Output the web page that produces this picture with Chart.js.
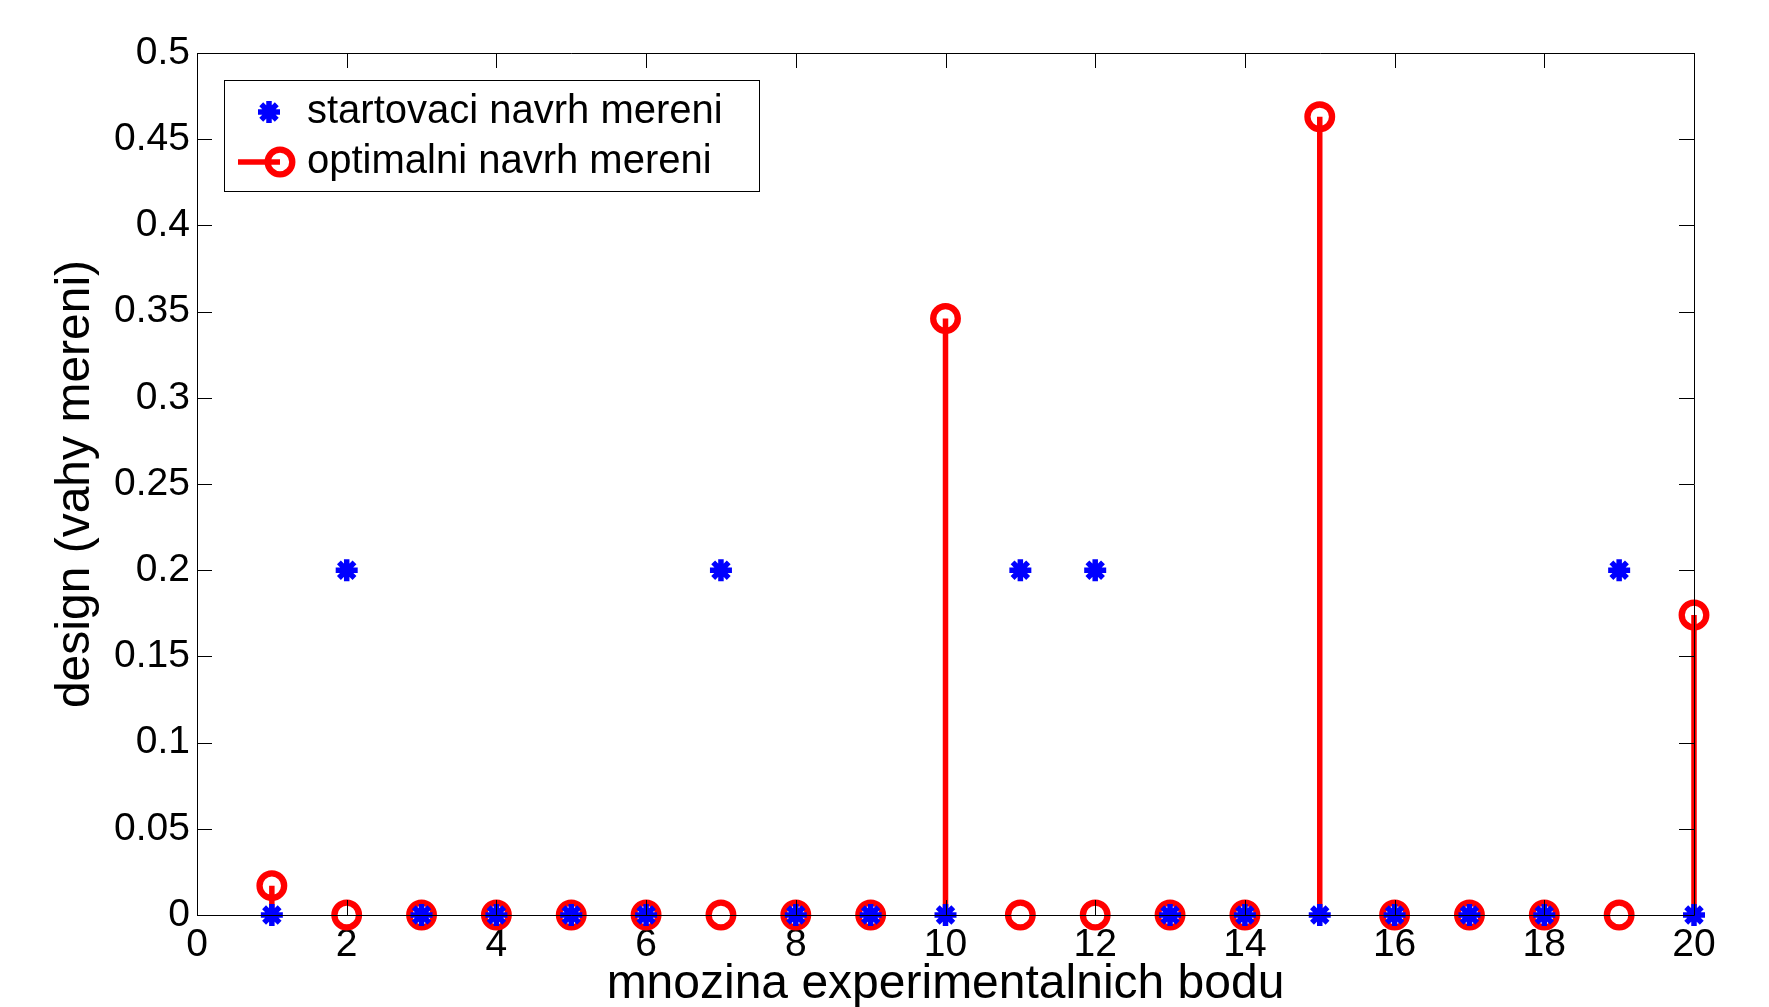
<!DOCTYPE html>
<html>
<head>
<meta charset="utf-8">
<title>design (vahy mereni)</title>
<script src="https://cdn.jsdelivr.net/npm/chart.js@4.4.1/dist/chart.umd.min.js"></script>
<style>
  html, body { margin: 0; padding: 0; background: #fff; }
  canvas { display: block; }
</style>
</head>
<body>
<canvas id="designChart" width="1769" height="1007"></canvas>
<script>
// Experimental points and the two designs (weights per point)
const points = [1, 2, 3, 4, 5, 6, 7, 8, 9, 10, 11, 12, 13, 14, 15, 16, 17, 18, 19, 20];
const startDesign = [0, 0.2, 0, 0, 0, 0, 0.2, 0, 0, 0, 0.2, 0.2, 0, 0, 0, 0, 0, 0, 0.2, 0];
const optimalDesign = [0.017, 0, 0, 0, 0, 0, 0, 0, 0, 0.346, 0, 0, 0, 0, 0.463, 0, 0, 0, 0, 0.174];

const seriesLabels = ['startovaci navrh mereni', 'optimalni navrh mereni'];

const xTicks = [0, 2, 4, 6, 8, 10, 12, 14, 16, 18, 20];
const yTicks = [0, 0.05, 0.1, 0.15, 0.2, 0.25, 0.3, 0.35, 0.4, 0.45, 0.5];
const yTickLabels = ['0', '0.05', '0.1', '0.15', '0.2', '0.25', '0.3', '0.35', '0.4', '0.45', '0.5'];

const xTitle = 'mnozina experimentalnich bodu';
const yTitle = 'design (vahy mereni)';

Chart.defaults.font.family = '"Liberation Sans", Arial, sans-serif';
Chart.defaults.color = '#000';

const starStyle = { pointStyle: 'star', radius: 11, borderWidth: 5.5, rotation: 0 };
const ringStyle = { pointStyle: 'circle', radius: 12.3, borderWidth: 6.3, rotation: 0 };
const stemWidth = 5.5;

// stem lines: baseline -> value, broken by nulls
const stemData = points.flatMap((x, i) => [
  { x: x, y: 0 },
  { x: x, y: optimalDesign[i] },
  { x: x, y: null }
]);

// axes box with inward ticks on all four sides, drawn over the data (like matlab)
const boxPlugin = {
  id: 'boxPlugin',
  afterDatasetsDraw(chart) {
    const { ctx, chartArea: a, scales: { x, y } } = chart;
    const len = 15;
    ctx.save();
    ctx.strokeStyle = '#000';
    ctx.lineWidth = 1;
    ctx.beginPath();
    x.ticks.forEach(t => {
      const px = Math.round(x.getPixelForValue(t.value)) + 0.5;
      ctx.moveTo(px, a.bottom); ctx.lineTo(px, a.bottom - len);
      ctx.moveTo(px, a.top); ctx.lineTo(px, a.top + len);
    });
    y.ticks.forEach(t => {
      const py = Math.round(y.getPixelForValue(t.value)) + 0.5;
      ctx.moveTo(a.left, py); ctx.lineTo(a.left + len, py);
      ctx.moveTo(a.right, py); ctx.lineTo(a.right - len, py);
    });
    ctx.stroke();
    ctx.beginPath();
    ctx.rect(Math.round(a.left) + 0.5, Math.round(a.top) + 0.5,
             Math.round(a.right - a.left), Math.round(a.bottom - a.top));
    ctx.stroke();
    ctx.restore();
  }
};

// boxed legend in the upper left corner of the axes
const legendPlugin = {
  id: 'legendPlugin',
  afterDraw(chart) {
    const { ctx, chartArea: a } = chart;
    const bx = a.left + 27, by = a.top + 27, bw = 535, bh = 111;
    ctx.save();
    ctx.fillStyle = '#fff';
    ctx.fillRect(bx, by, bw, bh);
    ctx.strokeStyle = '#000';
    ctx.lineWidth = 1;
    ctx.strokeRect(Math.round(bx) + 0.5, Math.round(by) + 0.5, bw, bh);

    const row1 = by + 32, row2 = by + 82;
    // star entry
    ctx.strokeStyle = '#0000ff';
    ctx.fillStyle = '#0000ff';
    ctx.lineWidth = starStyle.borderWidth;
    Chart.helpers.drawPoint(ctx, starStyle, bx + 45, row1);
    // stem entry: line + ring
    ctx.strokeStyle = '#ff0000';
    ctx.lineWidth = stemWidth;
    ctx.beginPath();
    ctx.moveTo(bx + 14, row2);
    ctx.lineTo(bx + 56, row2);
    ctx.stroke();
    ctx.fillStyle = 'rgba(0,0,0,0)';
    ctx.lineWidth = ringStyle.borderWidth;
    Chart.helpers.drawPoint(ctx, ringStyle, bx + 56, row2);

    ctx.fillStyle = '#000';
    ctx.font = '40px "Liberation Sans", Arial, sans-serif';
    ctx.textBaseline = 'middle';
    ctx.textAlign = 'left';
    ctx.fillText(seriesLabels[0], bx + 83, row1);
    ctx.fillText(seriesLabels[1], bx + 83, row2);
    ctx.restore();
  }
};

const ctx = document.getElementById('designChart').getContext('2d');

new Chart(ctx, {
  type: 'line',
  data: {
    datasets: [
      {
        label: seriesLabels[0],
        data: points.map((x, i) => ({ x: x, y: startDesign[i] })),
        showLine: false,
        pointStyle: starStyle.pointStyle,
        pointRadius: starStyle.radius,
        pointBorderWidth: starStyle.borderWidth,
        pointBorderColor: '#0000ff',
        pointBackgroundColor: '#0000ff',
        clip: false
      },
      {
        label: seriesLabels[1],
        data: points.map((x, i) => ({ x: x, y: optimalDesign[i] })),
        showLine: false,
        pointStyle: ringStyle.pointStyle,
        pointRadius: ringStyle.radius,
        pointBorderWidth: ringStyle.borderWidth,
        pointBorderColor: '#ff0000',
        pointBackgroundColor: 'rgba(0,0,0,0)',
        clip: false
      },
      {
        label: 'stems',
        data: stemData,
        borderColor: '#ff0000',
        borderWidth: stemWidth,
        pointRadius: 0,
        spanGaps: false,
        tension: 0,
        clip: false
      }
    ]
  },
  options: {
    responsive: false,
    animation: false,
    events: [],
    layout: { padding: { left: 0, top: 53, right: 75, bottom: 0 } },
    plugins: {
      legend: { display: false },
      tooltip: { enabled: false }
    },
    scales: {
      x: {
        type: 'linear',
        min: 0,
        max: 20,
        offset: false,
        afterBuildTicks: scale => { scale.ticks = xTicks.map(v => ({ value: v })); },
        afterFit: scale => { scale.height = 92; },
        grid: { display: false, drawTicks: false },
        border: { display: false },
        ticks: {
          padding: 7,
          maxRotation: 0,
          autoSkip: false,
          font: { size: 39 },
          callback: v => String(v)
        },
        title: {
          display: true,
          text: xTitle,
          font: { size: 48, lineHeight: 1 },
          padding: { top: 0, bottom: -2 }
        }
      },
      y: {
        type: 'linear',
        min: 0,
        max: 0.5,
        afterBuildTicks: scale => { scale.ticks = yTicks.map(v => ({ value: v })); },
        afterFit: scale => { scale.width = 197; },
        grid: { display: false, drawTicks: false },
        border: { display: false },
        ticks: {
          padding: 7,
          autoSkip: false,
          font: { size: 39 },
          callback: v => {
            const i = yTicks.findIndex(t => Math.abs(t - v) < 1e-9);
            return i >= 0 ? yTickLabels[i] : '';
          }
        },
        title: {
          display: true,
          text: yTitle,
          font: { size: 48, lineHeight: 1 },
          padding: { top: 52, bottom: 0 }
        }
      }
    }
  },
  plugins: [boxPlugin, legendPlugin]
});
</script>
</body>
</html>
